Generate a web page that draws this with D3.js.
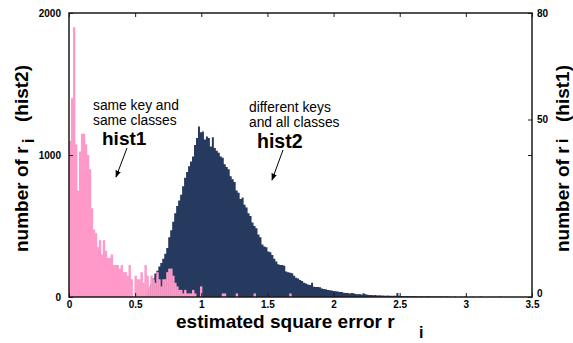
<!DOCTYPE html>
<html>
<head>
<meta charset="utf-8">
<script src="https://cdn.jsdelivr.net/npm/d3@7"></script>
<style>
  html, body { margin: 0; padding: 0; background: #fff; }
  svg { display: block; font-family: "Liberation Sans", Arial, Helvetica, sans-serif; }
</style>
</head>
<body>
<svg id="chart" width="573" height="343"></svg>
<script>
// Histogram of the estimated square error r_i, two populations.
const binWidth = 0.015;

// hist1: same key, same classes (counts on the right axis), bins start at r = 0
const hist1Start = 0;
const hist1Counts = [
  44, 56, 76, 43, 30, 41, 46, 46, 43, 40,
  36, 25, 19, 18, 14, 16, 12, 16, 13, 11,
  11, 12, 9, 9, 9, 8, 9, 7, 7, 6,
  9, 5, 0, 6, 5, 5, 7, 4, 9, 6,
  3, 6, 5, 4, 7, 5, 3, 5, 5, 7,
  8, 8, 6, 4, 3, 2, 2, 1, 2, 1,
  1, 1, 2, 1, 0, 0, 3, 0, 0, 0,
  0, 0, 0, 0, 0, 0, 0, 1, 1, 0,
  0, 0, 0, 0, 1, 0, 0, 0, 0, 0,
  0, 0, 0, 1, 0, 0, 0, 0, 0, 0,
  0, 0, 0, 0, 0, 0, 0, 0, 0, 0,
  0, 1
];

// hist2: different keys, all classes (counts on the left axis), bins start at r = 0.585
const hist2Start = 0.585;
const hist2Counts = [
  40, 60, 90, 130, 165, 185, 215, 240, 270, 305,
  345, 420, 470, 530, 590, 640, 680, 720, 780, 840,
  880, 920, 955, 990, 1070, 1120, 1200, 1160, 1165, 1110,
  1130, 1120, 1060, 1125, 1050, 1030, 1015, 990, 980, 935,
  915, 900, 850, 830, 810, 750, 735, 690, 700, 650,
  630, 590, 570, 525, 500, 485, 440, 420, 370, 355,
  350, 320, 315, 295, 270, 250, 230, 225, 225, 220,
  180, 175, 170, 168, 150, 135, 130, 120, 112, 100,
  95, 88, 85, 100, 72, 70, 70, 68, 60, 56,
  55, 50, 48, 45, 42, 40, 38, 35, 35, 30,
  28, 28, 25, 28, 26, 22, 20, 21, 18, 26,
  20, 15, 14, 14, 12, 14, 10, 12, 10, 11,
  9, 10, 8, 9, 8, 8, 28, 8, 7, 7,
  6, 7, 6, 5, 6, 5, 5, 4, 5, 4,
  4, 5, 4, 3, 4, 3, 4, 3, 3, 3,
  2, 3, 2, 2, 0, 3, 0, 0, 2, 0,
  3, 0, 0, 0, 2, 0, 0, 0, 3, 0,
  0, 0, 0, 2, 0, 0, 0, 0, 3, 0
];

const xTicks = [0, 0.5, 1, 1.5, 2, 2.5, 3, 3.5];
const yLeftTicks = [0, 1000, 2000];
const yRightTicks = [0, 50, 80];

const colors = { hist1: "#ff99c8", hist2: "#253a5e", frame: "#1a1a1a", text: "#000" };

const plot = { left: 69, right: 532, top: 13, bottom: 297 };

const svg = d3.select("#chart");

const x = d3.scaleLinear().domain([0, 3.5]).range([plot.left, plot.right]);
const yL = d3.scaleLinear().domain([0, 2000]).range([plot.bottom, plot.top]);
const yR = d3.scaleLinear().domain([0, 80]).range([plot.bottom, plot.top]);

function binsOf(counts, start) {
  return counts.map((c, i) => ({ x0: start + i * binWidth, x1: start + (i + 1) * binWidth, n: c }));
}

// hist2 (navy) as one stepped outline so neighbouring bins join without seams
const h2 = binsOf(hist2Counts, hist2Start);
const h2Steps = h2.concat([{ x0: h2[h2.length - 1].x1, n: 0 }]);
svg.append("path")
  .datum(h2Steps)
  .attr("d", d3.area()
    .curve(d3.curveStepAfter)
    .x(d => x(d.x0))
    .y0(yL(0))
    .y1(d => yL(d.n)))
  .attr("fill", colors.hist2);

// hist1 (pink) bars on top
svg.append("g").selectAll("rect")
  .data(binsOf(hist1Counts, hist1Start).filter(d => d.n > 0))
  .join("rect")
  .attr("x", d => x(d.x0))
  .attr("width", d => x(d.x1) - x(d.x0) + 0.4)
  .attr("y", d => yR(d.n))
  .attr("height", d => yR(0) - yR(d.n))
  .attr("fill", colors.hist1);

// Axes: inward ticks, mirrored on the opposite sides
function styleAxis(g) {
  g.select(".domain").remove();
  g.selectAll(".tick line").attr("stroke", colors.frame).attr("stroke-width", 1);
  g.selectAll(".tick text")
    .attr("fill", colors.text)
    .style("font-size", "10px")
    .style("font-weight", "bold");
}

svg.append("g")
  .attr("transform", `translate(0,${plot.bottom})`)
  .call(d3.axisBottom(x).tickValues(xTicks).tickFormat(d3.format("")).tickSizeInner(-4).tickSizeOuter(0).tickPadding(4))
  .call(styleAxis);

svg.append("g")
  .attr("transform", `translate(0,${plot.top})`)
  .call(d3.axisTop(x).tickValues(xTicks).tickFormat("").tickSizeInner(-4).tickSizeOuter(0))
  .call(styleAxis);

svg.append("g")
  .attr("transform", `translate(${plot.left},0)`)
  .call(d3.axisLeft(yL).tickValues(yLeftTicks).tickFormat(d3.format("d")).tickSizeInner(-4).tickSizeOuter(0).tickPadding(8))
  .call(styleAxis);

svg.append("g")
  .attr("transform", `translate(${plot.right},0)`)
  .call(d3.axisRight(yL).tickValues(yLeftTicks).tickFormat("").tickSizeInner(-4).tickSizeOuter(0))
  .call(styleAxis);

svg.append("g")
  .attr("transform", `translate(${plot.right},0)`)
  .call(d3.axisRight(yR).tickValues(yRightTicks).tickFormat(d3.format("d")).tickSizeInner(-4).tickSizeOuter(0).tickPadding(5))
  .call(styleAxis)
  .call(g => g.selectAll(".tick text").filter(d => d === 0).attr("dy", "-0.1em"));

// Plot frame
svg.append("rect")
  .attr("x", plot.left).attr("y", plot.top)
  .attr("width", plot.right - plot.left).attr("height", plot.bottom - plot.top)
  .attr("fill", "none").attr("stroke", colors.frame).attr("stroke-width", 1.5);

// Axis titles
const titleFont = { size: 19, sub: 16 };

svg.append("text")
  .attr("x", 176).attr("y", 328)
  .attr("fill", colors.text)
  .style("font-size", titleFont.size + "px").style("font-weight", "bold")
  .text("estimated square error r");
svg.append("text")
  .attr("x", 419).attr("y", 338)
  .attr("fill", colors.text)
  .style("font-size", titleFont.sub + "px").style("font-weight", "bold")
  .text("i");

function verticalTitle(baseX, startY, label, subShift) {
  const g = svg.append("g").attr("transform", `translate(${baseX},${startY}) rotate(-90)`);
  const common = t => t.attr("fill", colors.text).style("font-weight", "bold");
  common(g.append("text").attr("x", 0).attr("y", 0).style("font-size", titleFont.size + "px").text("number of r"));
  common(g.append("text").attr("x", 109).attr("y", subShift).style("font-size", titleFont.sub + "px").text("i"));
  common(g.append("text").attr("x", 130).attr("y", 0).style("font-size", titleFont.size + "px").text(label));
}
verticalTitle(28, 252, "(hist2)", 6);
verticalTitle(569, 252, "(hist1)", -1);

// Annotations
function note(lines, x0, y0) {
  lines.forEach((s, i) => {
    svg.append("text").attr("x", x0).attr("y", y0 + i * 14.5)
      .attr("fill", colors.text).style("font-size", "13.8px").text(s);
  });
}
note(["same key and", "same classes"], 93, 110);
note(["different keys", "and all classes"], 249, 112);

svg.append("text").attr("x", 102).attr("y", 145)
  .attr("fill", colors.text).style("font-size", "19px").style("font-weight", "bold").text("hist1");
svg.append("text").attr("x", 257).attr("y", 148)
  .attr("fill", colors.text).style("font-size", "19.5px").style("font-weight", "bold").text("hist2");

svg.append("defs").append("marker")
  .attr("id", "head").attr("viewBox", "0 0 10 10")
  .attr("refX", 9).attr("refY", 5)
  .attr("markerWidth", 7).attr("markerHeight", 7)
  .attr("markerUnits", "userSpaceOnUse")
  .attr("orient", "auto")
  .append("path").attr("d", "M0,1 L10,5 L0,9 Z").attr("fill", colors.text);

function arrow(x1, y1, x2, y2) {
  svg.append("line")
    .attr("x1", x1).attr("y1", y1).attr("x2", x2).attr("y2", y2)
    .attr("stroke", colors.text).attr("stroke-width", 1)
    .attr("marker-end", "url(#head)");
}
arrow(127, 148, 116, 177);
arrow(283, 150, 272, 180);
</script>
</body>
</html>
